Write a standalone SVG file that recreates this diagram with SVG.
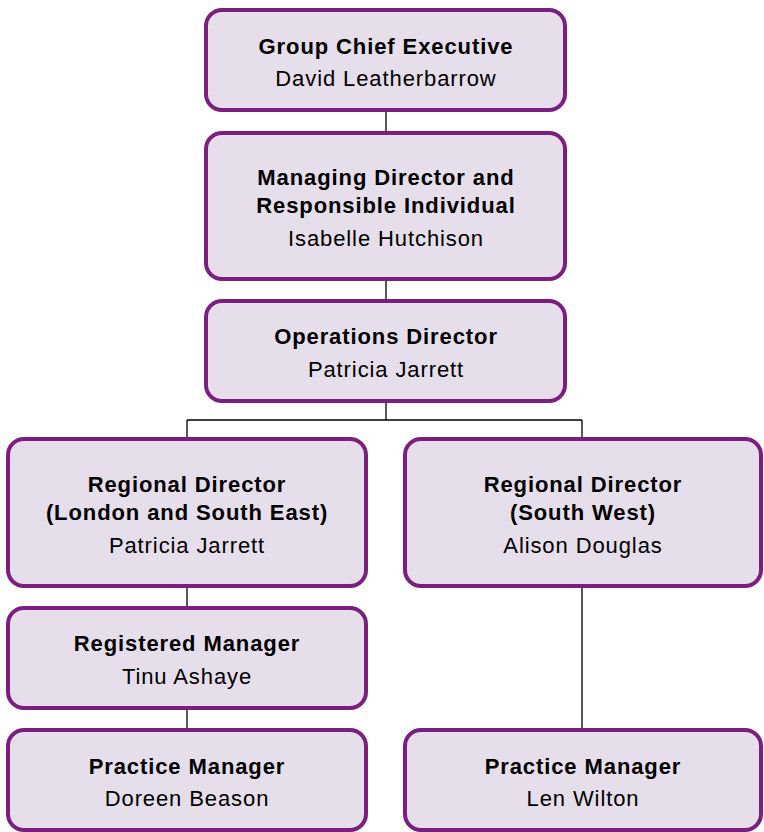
<svg xmlns="http://www.w3.org/2000/svg" width="764" height="832" viewBox="0 0 764 832">
<style>
.box{fill:#e6deeb;stroke:#7c1e80;stroke-width:4}
.b{font-family:"Liberation Sans",Arial,sans-serif;font-weight:bold;font-size:22px;letter-spacing:0.9px;fill:#000;text-anchor:middle}
.n{font-family:"Liberation Sans",Arial,sans-serif;font-size:22px;letter-spacing:0.9px;fill:#000;text-anchor:middle}
.c{fill:none;stroke:#000;stroke-width:1.3}
</style>
<rect width="764" height="832" fill="#fff"/>
<g id="connectors">
<path class="c" d="M386 110V133M386 279V301M386 401V420M187 420H582M187 420V439M582 420V439M187 586V608M187 708V730M582 586V730"/>
</g>
<g id="n1"><rect class="box" x="206" y="10" width="359" height="100" rx="16"/>
<text class="b" x="386" y="54">Group Chief Executive</text>
<text class="n" x="386" y="86">David Leatherbarrow</text></g>
<g id="n2"><rect class="box" x="206" y="133" width="359" height="146" rx="16"/>
<text class="b" x="386" y="185">Managing Director and</text>
<text class="b" x="386" y="213">Responsible Individual</text>
<text class="n" x="386" y="246">Isabelle Hutchison</text></g>
<g id="n3"><rect class="box" x="206" y="301" width="359" height="100" rx="16"/>
<text class="b" x="386" y="344">Operations Director</text>
<text class="n" x="386" y="377">Patricia Jarrett</text></g>
<g id="n4"><rect class="box" x="8" y="439" width="358" height="147" rx="16"/>
<text class="b" x="187" y="492">Regional Director</text>
<text class="b" x="187" y="520">(London and South East)</text>
<text class="n" x="187" y="553">Patricia Jarrett</text></g>
<g id="n5"><rect class="box" x="405" y="439" width="356" height="147" rx="16"/>
<text class="b" x="583" y="492">Regional Director</text>
<text class="b" x="583" y="520">(South West)</text>
<text class="n" x="583" y="553">Alison Douglas</text></g>
<g id="n6"><rect class="box" x="8" y="608" width="358" height="100" rx="16"/>
<text class="b" x="187" y="651">Registered Manager</text>
<text class="n" x="187" y="684">Tinu Ashaye</text></g>
<g id="n7"><rect class="box" x="8" y="730" width="358" height="100" rx="16"/>
<text class="b" x="187" y="774">Practice Manager</text>
<text class="n" x="187" y="806">Doreen Beason</text></g>
<g id="n8"><rect class="box" x="405" y="730" width="356" height="100" rx="16"/>
<text class="b" x="583" y="774">Practice Manager</text>
<text class="n" x="583" y="806">Len Wilton</text></g>
</svg>
